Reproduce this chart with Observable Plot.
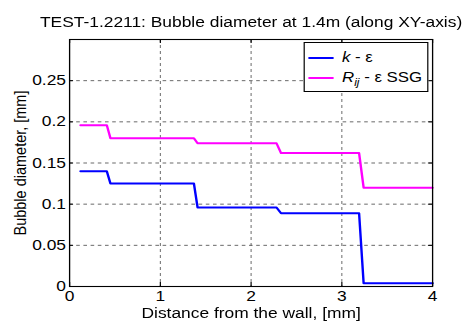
<!DOCTYPE html>
<html>
<head>
<meta charset="utf-8">
<script src="https://cdn.jsdelivr.net/npm/d3@7"></script>
<script src="https://cdn.jsdelivr.net/npm/@observablehq/plot@0.6"></script>
<style>
  body { margin: 0; background: #fff; overflow: hidden; }
  #wrap { position: relative; width: 387.5px; height: 321px; font-family: "Liberation Sans", Arial, sans-serif; transform: scaleX(1.2); transform-origin: 0 0; }
  #legend { position: absolute; left: 252.5px; top: 42px; width: 104.5px; height: 50px; border: 1px solid #000; background: #fff; box-sizing: border-box; font-size: 14px; color: #000; }
  .row { position: absolute; left: 3.5px; height: 18px; line-height: 18px; white-space: nowrap; }
  .sw { display: inline-block; width: 21px; height: 2px; vertical-align: middle; margin-right: 7px; }
</style>
</head>
<body>
<div id="wrap"></div>
<script>
const title = "TEST-1.2211: Bubble diameter at 1.4m (along XY-axis)";
const xLabel = "Distance from the wall, [mm]";
const yLabel = "Bubble diameter, [mm]";
const xTicks = [0, 1, 2, 3, 4];
const yTicks = [0, 0.05, 0.1, 0.15, 0.2, 0.25];
const yTickLabels = ["0", "0.05", "0.1", "0.15", "0.2", "0.25"];

const keX = [0.12, 0.41, 0.45, 1.37, 1.41, 2.28, 2.33, 3.19, 3.24, 4.0];
const keY = [0.140, 0.140, 0.125, 0.125, 0.096, 0.096, 0.089, 0.089, 0.004, 0.004];
const ssgX = [0.12, 0.41, 0.45, 1.37, 1.41, 2.28, 2.33, 3.19, 3.24, 4.0];
const ssgY = [0.196, 0.196, 0.180, 0.180, 0.174, 0.174, 0.162, 0.162, 0.120, 0.120];

const ke = keX.map((x, i) => ({x, y: keY[i]}));
const ssg = ssgX.map((x, i) => ({x, y: ssgY[i]}));
const font = "Liberation Sans, Arial, sans-serif";

const chart = Plot.plot({
  width: 387.5,
  height: 321,
  marginLeft: 57.5,
  marginRight: 27.5,
  marginTop: 39,
  marginBottom: 35,
  style: {fontFamily: font, fontSize: "14.5px", color: "#000", background: "#fff", overflow: "visible"},
  x: {domain: [0, 4]},
  y: {domain: [0, 0.3]},
  marks: [
    Plot.ruleX([1, 2, 3], {stroke: "#555", strokeDasharray: "3,3", strokeWidth: 0.8}),
    Plot.ruleY([0.05, 0.1, 0.15, 0.2, 0.25], {stroke: "#555", strokeDasharray: "3,3", strokeWidth: 0.8}),
    Plot.ruleX(xTicks, {x: d => d, y1: 0, y2: 0.005, stroke: "#000"}),
    Plot.ruleX(xTicks, {x: d => d, y1: 0.295, y2: 0.3, stroke: "#000"}),
    Plot.ruleY(yTicks, {y: d => d, x1: 0, x2: 0.045, stroke: "#000"}),
    Plot.ruleY(yTicks, {y: d => d, x1: 3.955, x2: 4, stroke: "#000"}),
    Plot.line(ke, {x: "x", y: "y", stroke: "#0000ff", strokeWidth: 2}),
    Plot.line(ssg, {x: "x", y: "y", stroke: "#ff00ff", strokeWidth: 2}),
    Plot.frame({stroke: "#000", strokeWidth: 1.1}),
    Plot.axisX(xTicks, {tickSize: 0, tickPadding: 4, fontSize: 14.5, label: null, tickFormat: d => String(d)}),
    Plot.axisY(yTicks, {tickSize: 0, tickPadding: 3, fontSize: 14.5, label: null, tickFormat: (d, i) => yTickLabels[i]}),
    Plot.text([xLabel], {frameAnchor: "bottom", lineAnchor: "middle", dy: 27, fontSize: 14.5, text: d => d}),
    Plot.text([yLabel], {frameAnchor: "left", textAnchor: "middle", lineAnchor: "middle", dx: -40.8, rotate: -90, fontSize: 14.5, text: d => d}),
    Plot.text([title], {frameAnchor: "top", lineAnchor: "middle", dy: -17, fontSize: 14.5, text: d => d})
  ]
});
const wrap = document.getElementById("wrap");
wrap.appendChild(chart);
const legend = document.createElement("div");
legend.id = "legend";
legend.innerHTML =
  '<div class="row" style="top:5px"><span class="sw" style="background:#0000ff"></span><i>k</i> - ε</div>' +
  '<div class="row" style="top:25px"><span class="sw" style="background:#ff00ff"></span><i>R<sub style="font-size:10px">ij</sub></i> - ε SSG</div>';
wrap.appendChild(legend);
</script>
</body>
</html>
